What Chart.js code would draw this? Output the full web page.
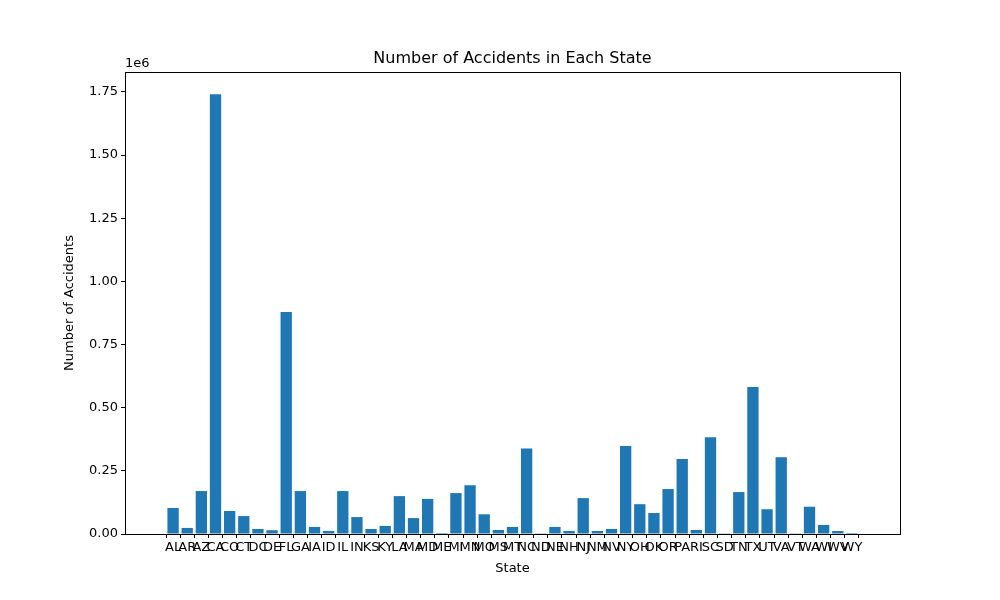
<!DOCTYPE html>
<html>
<head>
<meta charset="utf-8">
<script src="https://cdn.jsdelivr.net/npm/chart.js@4"></script>
<style>
  body { margin: 0; background: #fff; }
  #wrap { width: 1000px; height: 600px; }
</style>
</head>
<body>
<div id="wrap"><canvas id="chart"></canvas></div>
<script>
const states = ['AL','AR','AZ','CA','CO','CT','DC','DE','FL','GA','IA','ID','IL','IN','KS','KY','LA','MA','MD','ME',
  'MI','MN','MO','MS','MT','NC','ND','NE','NH','NJ','NM','NV','NY','OH','OK','OR','PA','RI','SC','SD',
  'TN','TX','UT','VA','VT','WA','WI','WV','WY'];
// accidents, in millions (axis scaled by 1e6)
const accidents = [0.103,0.024,0.170,1.741,0.091,0.071,0.020,0.015,0.879,0.170,0.028,0.012,0.170,0.067,0.020,0.032,0.150,0.063,0.139,0.004,
  0.162,0.193,0.078,0.016,0.028,0.338,0.003,0.028,0.012,0.142,0.012,0.020,0.348,0.118,0.083,0.178,0.297,0.016,0.383,0.001,
  0.166,0.582,0.098,0.304,0.001,0.108,0.036,0.012,0.004];
const yTicks = [0, 0.25, 0.5, 0.75, 1.0, 1.25, 1.5, 1.75];

const font = 'DejaVu Sans';

const decor = {
  id: 'decor',
  afterDraw(chart) {
    const { ctx, chartArea: a } = chart;
    ctx.save();
    ctx.strokeStyle = '#000';
    ctx.lineWidth = 1;
    ctx.strokeRect(a.left + 0.5, a.top + 0.5, a.right - a.left, a.bottom - a.top);
    ctx.fillStyle = '#000';
    ctx.font = '16px ' + font;
    ctx.textAlign = 'center';
    ctx.textBaseline = 'bottom';
    ctx.fillText('Number of Accidents in Each State', (a.left + a.right) / 2, a.top - 5);
    ctx.font = '13px ' + font;
    ctx.textAlign = 'left';
    ctx.fillText('1e6', a.left, a.top - 2);
    ctx.restore();
  }
};

new Chart(document.getElementById('chart'), {
  type: 'bar',
  data: {
    datasets: [{
      data: accidents.map((v, i) => ({ x: i, y: v })),
      backgroundColor: '#1f77b4', categoryPercentage: 0.8, barPercentage: 1
    }]
  },
  plugins: [decor],
  options: {
    responsive: true,
    maintainAspectRatio: false,
    animation: false,
    devicePixelRatio: 1,
    layout: { padding: { top: 72, right: 100, left: 58, bottom: 20 } },
    plugins: { legend: { display: false }, tooltip: { enabled: false } },
    scales: {
      x: {
        type: 'linear',
        min: -2.84,
        max: states.length - 1 + 2.84,
        grid: { drawOnChartArea: false, tickLength: 4, color: '#000' },
        border: { color: '#000' },
        afterBuildTicks(s) { s.ticks = states.map((_, i) => ({ value: i })); },
        ticks: { color: '#000', font: { family: font, size: 13 }, maxRotation: 0, minRotation: 0, autoSkip: false, padding: 2,
          callback: v => states[v] },
        title: { display: true, text: 'State', color: '#000', font: { family: font, size: 13 }, padding: { top: 0 } },
        afterFit(s) { s.height = 46; }
      },
      y: {
        min: 0,
        max: 1.829,
        grid: { drawOnChartArea: false, tickLength: 4, color: '#000' },
        border: { color: '#000' },
        afterBuildTicks(s) { s.ticks = yTicks.map(v => ({ value: v })); },
        ticks: { color: '#000', font: { family: font, size: 13 }, callback: v => v.toFixed(2) },
        title: { display: true, text: 'Number of Accidents', color: '#000', font: { family: font, size: 13 } },
        afterFit(s) { s.width = 67; }
      }
    }
  }
});
</script>
</body>
</html>
